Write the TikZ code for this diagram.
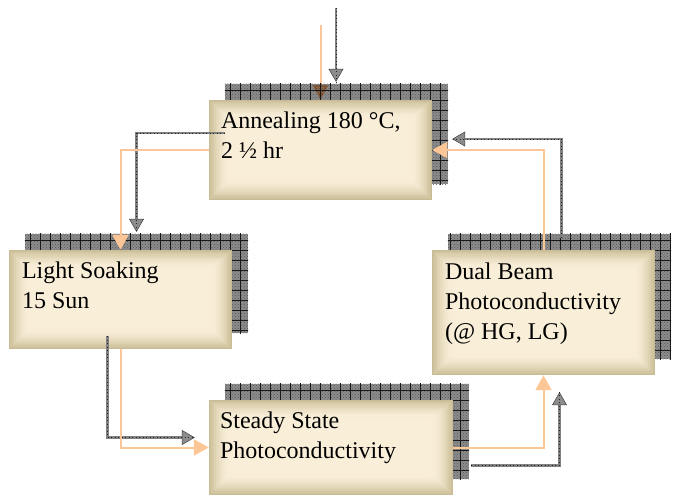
\documentclass[tikz,border=0pt]{standalone}
\usepackage{fontspec}
\setmainfont{Liberation Serif}
\usetikzlibrary{arrows.meta,positioning,calc,patterns,backgrounds}
\definecolor{boxtan}{RGB}{201,188,148}
\definecolor{boxcream}{RGB}{249,238,216}
\definecolor{peach}{RGB}{253,198,150}
\tikzset{
    stepbox/.style={
        rectangle, inner sep=0pt, minimum width=223pt,
        path picture={
            \foreach \i in {0,...,18}{
                \pgfmathtruncatemacro{\mix}{100-(18-\i)*(18-\i)/3.24}
                \fill[boxcream!\mix!boxtan]
                    ($(path picture bounding box.south west)+(\i*1.2pt,\i*1.2pt)$) rectangle
                    ($(path picture bounding box.north east)+(-\i*1.2pt,-\i*1.1pt)$);
            }
        }
    },
    steptext/.style={
        anchor=north west, inner sep=0pt, align=left,
        font=\fontsize{24}{30}\selectfont
    },
    grayarrow/.style={
        draw=black!50, line width=2.2pt,
        -{Triangle[length=13pt,width=15pt,color=black!75,fill=black!45,line width=0.5pt]},
        postaction={draw=black!85, line width=0.6pt, dash pattern=on 1pt off 2.5pt, -}
    },
    peacharrow/.style={draw=peach, line width=2pt, -{Triangle[length=15pt,width=16pt]}}
}
% checkered shadow behind a box
\newcommand{\gridshadow}[1]{%
    \begin{scope}[on background layer]
    \begin{scope}
        \clip ($(#1.south west)+(16pt,16pt)$) rectangle ($(#1.north east)+(16pt,16pt)$);
        \fill[black!45] ($(#1.south west)+(16pt,16pt)$) rectangle ($(#1.north east)+(16pt,16pt)$);
        \fill[pattern=crosshatch dots, pattern color=black!65]
            ($(#1.south west)+(16pt,16pt)$) rectangle ($(#1.north east)+(16pt,16pt)$);
        \draw[black!90, line width=0.7pt, step=10pt]
            ($(#1.south west)+(10pt,10pt)$) grid ($(#1.north east)+(20pt,20pt)$);
    \end{scope}
    \end{scope}}

\begin{document}
\begin{tikzpicture}[x=1pt, y=-1pt]
\useasboundingbox (0,0) rectangle (676,495);

% Boxes
\node[stepbox, minimum height=100pt] (anneal) at (320.5,150) {};
\node[stepbox, minimum height=99pt] (soak) at (120.5,299.5) {};
\node[stepbox, minimum width=244pt, minimum height=95pt] (steady) at (331,447.5) {};
\node[stepbox, minimum height=125pt] (dual) at (543.5,312.5) {};

\gridshadow{anneal}
\gridshadow{soak}
\gridshadow{steady}
\gridshadow{dual}

% Texts
\node[steptext] (annealtext) at ($(anneal.north west)+(12pt,-12pt)$) {Annealing 180 °C,\\2 ½ hr};
\node[steptext] (soaktext) at ($(soak.north west)+(13pt,-12pt)$) {Light Soaking\\15 Sun};
\node[steptext] (steadytext) at ($(steady.north west)+(11pt,-12pt)$) {Steady State\\Photoconductivity};
\node[steptext] (dualtext) at ($(dual.north west)+(13pt,-13pt)$) {Dual Beam\\Photoconductivity\\(@ HG, LG)};

% Gray loop
\coordinate (ingray) at (336,8);
\draw[grayarrow] (ingray) -- ($(ingray |- anneal.north)+(0,-18)$);
\draw[grayarrow] ($(anneal.west)+(16,-17)$) -| ($(soak.north)+(16,-18)$);
\draw[grayarrow] ($(soak.south)+(-13,-13)$) |- ($(steady.west)+(-14,-10)$);
\draw[grayarrow] ($(steady.east)+(18,18)$) -| ($(dual.south)+(16,17)$);
\draw[grayarrow] ($(dual.north)+(18,-12)$) |- ($(anneal.east)+(20,-11)$);

% Peach loop
\coordinate (inpeach) at (320.5,25);
\draw[peacharrow, blend mode=multiply] (inpeach) -- (anneal.north);
\draw[peacharrow] (anneal.west) -| (soak.north);
\draw[peacharrow] (soak.south) |- (steady.west);
\draw[peacharrow] (steady.east) -| (dual.south);
\draw[peacharrow] (dual.north) |- (anneal.east);

\end{tikzpicture}
\end{document}
